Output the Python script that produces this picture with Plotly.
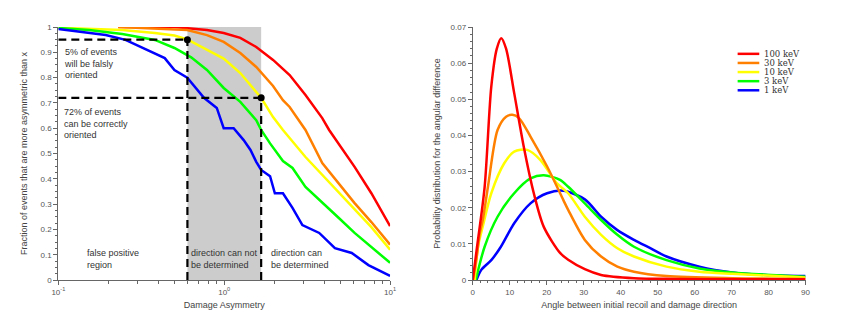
import math
import plotly.graph_objects as go

# ---------------- Left panel data (Damage asymmetry, log x) ----------------
blue_x = [0.1, 0.153, 0.193, 0.254, 0.333, 0.438, 0.501, 0.599, 0.755, 0.902, 0.993, 1.14, 1.31, 1.44, 1.56, 1.67, 1.89, 2.02, 2.26, 2.58, 2.96, 3.74, 4.65, 5.87, 7.40, 10.0]
blue_y = [0.992, 0.976, 0.968, 0.949, 0.913, 0.877, 0.83, 0.80, 0.72, 0.68, 0.60, 0.60, 0.553, 0.514, 0.467, 0.435, 0.41, 0.343, 0.343, 0.285, 0.217, 0.186, 0.126, 0.107, 0.059, 0.016]

green_x = [0.1, 0.153, 0.243, 0.382, 0.501, 0.632, 0.787, 0.993, 1.25, 1.56, 1.67, 1.89, 2.26, 2.58, 3.09, 3.90, 4.91, 6.11, 7.71, 10.0]
green_y = [0.996, 0.988, 0.972, 0.949, 0.917, 0.88, 0.83, 0.759, 0.704, 0.632, 0.593, 0.54, 0.47, 0.443, 0.368, 0.308, 0.245, 0.186, 0.130, 0.068]

yellow_x = [0.1, 0.243, 0.382, 0.501, 0.599, 0.787, 0.993, 1.25, 1.67, 1.97, 2.26, 3.09, 3.90, 4.91, 6.11, 7.71, 10.0]
yellow_y = [0.997, 0.988, 0.976, 0.966, 0.951, 0.909, 0.875, 0.818, 0.72, 0.644, 0.593, 0.486, 0.415, 0.348, 0.277, 0.209, 0.12]

orange_x = [0.23, 0.501, 0.599, 0.787, 0.993, 1.25, 1.56, 1.97, 2.26, 2.48, 3.09, 3.90, 4.91, 6.11, 7.71, 10.0]
orange_y = [1.0, 0.992, 0.988, 0.968, 0.941, 0.897, 0.842, 0.767, 0.711, 0.684, 0.593, 0.462, 0.383, 0.304, 0.229, 0.14]

red_x = [0.23, 0.501, 0.787, 0.993, 1.25, 1.56, 1.97, 2.48, 3.09, 3.90, 4.29, 4.91, 6.11, 7.71, 10.0]
red_y = [1.0, 1.0, 0.988, 0.976, 0.957, 0.921, 0.87, 0.81, 0.731, 0.640, 0.593, 0.537, 0.447, 0.343, 0.213]

# thresholds
x_low = 0.6
x_high = 1.67
frac_low = 0.95
frac_high = 0.72

# ---------------- Right panel data (angle distribution) ----------------
ang_red = [0, 1.0, 3.2, 5.0, 6.5, 7.7, 9.0, 11.2, 13.8, 16.5, 19.2, 23.6, 25.8, 30.3, 34.7, 43.6, 55, 70, 90]
pdf_red = [0, 0.008, 0.0257, 0.0535, 0.064, 0.0669, 0.064, 0.0517, 0.0368, 0.024, 0.0147, 0.0075, 0.0056, 0.0030, 0.0014, 0.0005, 0.0003, 0.0002, 0.0002]

ang_orange = [0, 1.0, 1.9, 2.7, 4.1, 6.7, 9.0, 10.7, 12.5, 15.6, 20.1, 24.5, 25.8, 30.3, 34.7, 39.1, 43.6, 52.4, 70.2, 90]
pdf_orange = [0, 0.006, 0.013, 0.0166, 0.0258, 0.0415, 0.0452, 0.0457, 0.0448, 0.0397, 0.0314, 0.0221, 0.0194, 0.0111, 0.0065, 0.0037, 0.0023, 0.0011, 0.0005, 0.0003]

ang_yellow = [0.5, 1.4, 2.7, 5.0, 8.5, 11.2, 14.7, 18.3, 22.7, 25.8, 30.3, 34.7, 39.1, 43.6, 52.4, 61.3, 70.2, 90]
pdf_yellow = [0, 0.0092, 0.0148, 0.024, 0.0323, 0.0355, 0.036, 0.0332, 0.0268, 0.024, 0.0175, 0.0125, 0.0088, 0.0065, 0.0037, 0.0023, 0.0017, 0.0007]

ang_green = [0.8, 3.2, 6.7, 11.2, 15.6, 19.2, 23.6, 25.8, 30.3, 34.7, 39.1, 43.6, 52.4, 61.3, 70.2, 90]
pdf_green = [0, 0.0092, 0.0175, 0.024, 0.0281, 0.029, 0.0277, 0.0258, 0.0212, 0.0166, 0.0125, 0.0092, 0.0055, 0.0032, 0.0021, 0.0009]

ang_blue = [1.0, 2.3, 5.0, 7.6, 11.2, 15.6, 20.1, 24.5, 30.3, 34.7, 39.1, 43.6, 48.0, 52.4, 61.3, 70.2, 79.1, 90]
pdf_blue = [0, 0.0028, 0.0055, 0.0092, 0.0157, 0.0212, 0.024, 0.0247, 0.0223, 0.0175, 0.0138, 0.0111, 0.0088, 0.0065, 0.0037, 0.0021, 0.0014, 0.0011]

labels = ["100 keV", "30 keV", "10 keV", "3 keV", "1 keV"]
colors = ["#ff0000", "#ff8000", "#ffff00", "#00ff00", "#0000ff"]

W, H = 839, 311  # page body has an 8px margin inside the 847x319 window

fig = go.Figure()

# gray region (drawn below)
fig.add_shape(type="rect", xref="x", yref="y", x0=x_low, x1=x_high, y0=0, y1=1,
              fillcolor="#cccccc", line_width=0, layer="below")

left_series = [(red_x, red_y), (orange_x, orange_y), (yellow_x, yellow_y), (green_x, green_y), (blue_x, blue_y)]
for (xs, ys), c in zip(left_series, colors):
    fig.add_trace(go.Scatter(x=xs, y=ys, mode="lines", line=dict(color=c, width=2.5),
                             showlegend=False, xaxis="x", yaxis="y"))

# dashed threshold lines
dash = dict(color="black", width=2.2, dash="8px,5px")
fig.add_trace(go.Scatter(x=[0.1, x_low], y=[frac_low, frac_low], mode="lines", line=dash, showlegend=False, xaxis="x", yaxis="y"))
fig.add_trace(go.Scatter(x=[0.1, x_high], y=[frac_high, frac_high], mode="lines", line=dash, showlegend=False, xaxis="x", yaxis="y"))
fig.add_trace(go.Scatter(x=[x_low, x_low], y=[0, frac_low], mode="lines", line=dash, showlegend=False, xaxis="x", yaxis="y"))
fig.add_trace(go.Scatter(x=[x_high, x_high], y=[0, frac_high], mode="lines", line=dash, showlegend=False, xaxis="x", yaxis="y"))
fig.add_trace(go.Scatter(x=[x_low, x_high], y=[frac_low, frac_high], mode="markers",
                         marker=dict(color="black", size=7), showlegend=False, xaxis="x", yaxis="y"))

right_series = [(ang_red, pdf_red), (ang_orange, pdf_orange), (ang_yellow, pdf_yellow), (ang_green, pdf_green), (ang_blue, pdf_blue)]
# draw blue first so red is on top
for (xs, ys), c, lab in reversed(list(zip(right_series, colors, labels))):
    fig.add_trace(go.Scatter(x=xs, y=ys, mode="lines", name=lab, showlegend=False,
                             line=dict(color=c, width=2.5, shape="spline", smoothing=0.8),
                             xaxis="x2", yaxis="y2"))

axis_common = dict(showgrid=False, zeroline=False, showline=True, linecolor="#666666", linewidth=1,
                   ticks="outside", tickcolor="#666666", ticklen=4,
                   tickfont=dict(size=8, color="#555555"))

fig.update_layout(
    width=W, height=H,
    margin=dict(l=0, r=0, t=19, b=39),
    paper_bgcolor="white", plot_bgcolor="white",
    font=dict(family="Liberation Sans, Arial, sans-serif", color="#444444"),
    xaxis=dict(domain=[44 / W, 381 / W], type="log", range=[-1, 1],
               tickvals=[0.1, 1, 10], ticktext=["10<sup>-1</sup>", "10<sup>0</sup>", "10<sup>1</sup>"],
               minor=dict(ticks="outside", ticklen=3, dtick="D1", tickcolor="#666666", showgrid=False),
               title=dict(text="Damage Asymmetry", font=dict(size=9, color="#444444"), standoff=6),
               anchor="y", **axis_common),
    yaxis=dict(range=[0, 1], dtick=0.1, tick0=0,
               minor=dict(ticks="outside", ticklen=2, dtick=0.025, tickcolor="#666666", showgrid=False),
               title=dict(text="Fraction of events that are more asymmetric than x", font=dict(size=9, color="#444444"), standoff=11),
               anchor="x", **axis_common),
    xaxis2=dict(domain=[465 / W, 803 / W], range=[0, 90], dtick=10, tick0=0,
                minor=dict(ticks="outside", ticklen=2, dtick=2, tickcolor="#666666", showgrid=False),
                title=dict(text="Angle between initial recoil and damage direction", font=dict(size=9, color="#444444"), standoff=6),
                anchor="y2", **axis_common),
    yaxis2=dict(range=[0, 0.07], dtick=0.01, tick0=0,
                minor=dict(ticks="outside", ticklen=2, dtick=0.002, tickcolor="#666666", showgrid=False),
                title=dict(text="Probability distribution for the angular difference", font=dict(size=9, color="#444444"), standoff=8),
                anchor="x2", **axis_common),
    showlegend=False,
)

# manual compact legend (paper coordinates)
leg_x0, leg_x1, leg_tx = 734 / W, 756 / W, 760 / W
leg_top, leg_step = (H - 33) / H, 11.2 / H
for i, (lab, c) in enumerate(zip(labels, colors)):
    yy = leg_top - i * leg_step
    fig.add_shape(type="line", xref="paper", yref="paper", x0=leg_x0, x1=leg_x1, y0=yy, y1=yy,
                  line=dict(color=c, width=2.5))
    fig.add_annotation(x=leg_tx, y=yy, xref="paper", yref="paper", text=lab, showarrow=False,
                       xanchor="left", yanchor="middle", borderpad=0,
                       font=dict(family="DejaVu Serif, Liberation Serif, serif", size=8.5, color="#333333"))

ann_font = dict(size=9, color="#333333", family="Liberation Sans, Arial, sans-serif")
notes = [
    (0.105, 0.93, "5% of events<br>will be falsly<br>oriented"),
    (0.105, 0.69, "72% of events<br>can be correctly<br>oriented"),
    (0.145, 0.135, "false positive<br>region"),
    (0.615, 0.135, "direction can not<br>be determined"),
    (1.85, 0.135, "direction can<br>be determined"),
]
for xv, yv, t in notes:
    fig.add_annotation(x=math.log10(xv), y=yv, xref="x", yref="y", text=t, showarrow=False,
                       xanchor="left", yanchor="top", align="left", font=ann_font)

fig.write_html("out.html")
